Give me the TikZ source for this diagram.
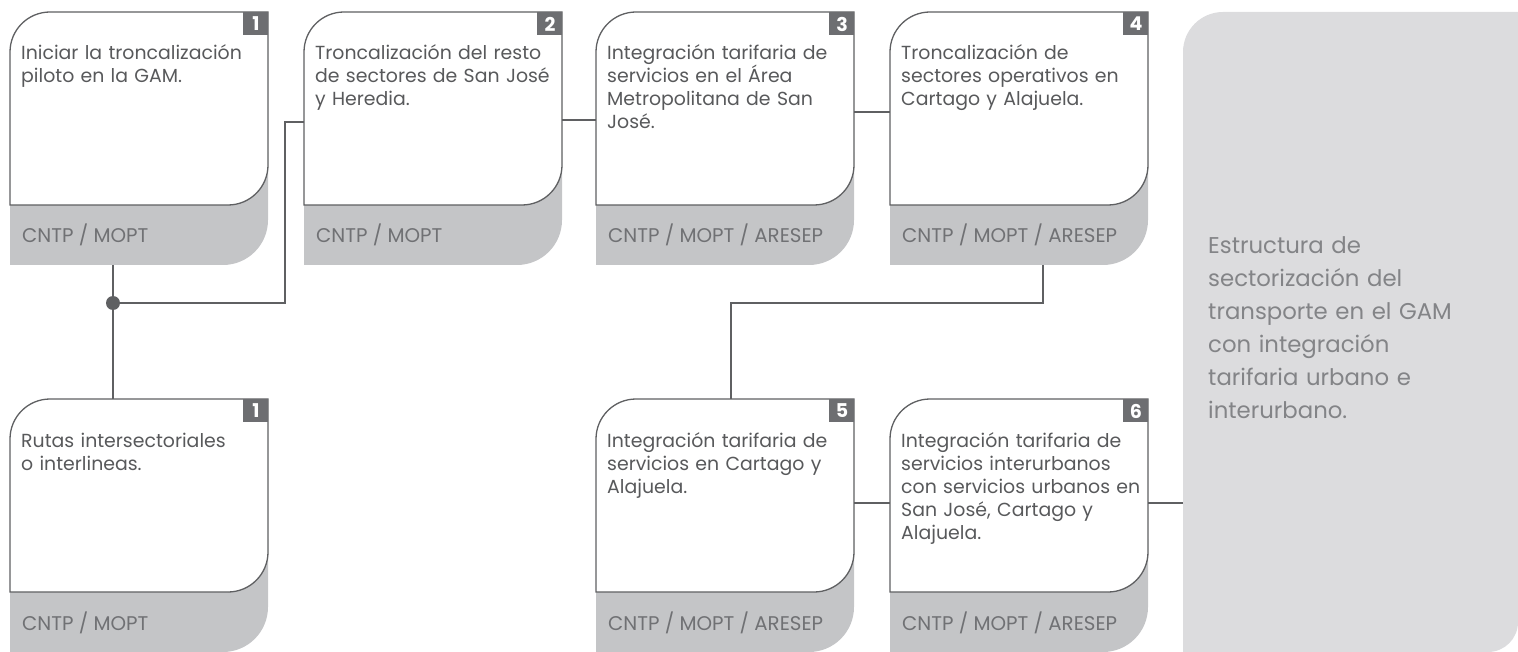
\documentclass[tikz,border=0pt]{standalone}
\usepackage{fontspec}
\setmainfont{Poppins}
\usetikzlibrary{calc}
\definecolor{linegray}{HTML}{5F6062}
\definecolor{badgegray}{HTML}{6D6E71}
\definecolor{footgray}{HTML}{C4C5C7}
\definecolor{panelgray}{HTML}{DCDCDE}
\definecolor{bodytext}{HTML}{58595B}
\definecolor{foottext}{HTML}{707174}
\definecolor{paneltext}{HTML}{838487}
\tikzset{
  connector/.style={draw=linegray, line width=1.3pt},
  cardline/.style={draw=linegray, line width=1.3pt, fill=white},
  boxarea/.style={minimum width=258pt, minimum height=253pt, inner sep=0pt, outer sep=0pt, anchor=north west},
  bodylabel/.style={text=bodytext, font=\fontsize{18.9}{23}\selectfont, text width=245pt, align=left, inner sep=0pt, anchor=base west},
  footlabel/.style={text=foottext, font=\fontsize{19.8}{22}\selectfont, inner sep=0pt, anchor=base west},
  badgelabel/.style={text=white, font=\bfseries\fontsize{19}{19}\selectfont, inner sep=0pt},
  paneltxt/.style={text=paneltext, font=\fontsize{22.8}{33}\selectfont, text width=300pt, align=left, inner sep=0pt, anchor=base west}
}
\newcommand\stepcard[6]{%
  \node[boxarea] (#1) at (#2,#3) {};
  \fill[footgray] (#2,{#3+140}) -- ({#2+258},{#3+140}) -- ({#2+258},{#3+208})
     arc[start angle=0,end angle=90,radius=45] -- (#2,{#3+253}) -- cycle;
  \path[cardline] (#2,{#3+193}) -- (#2,{#3+40}) arc[start angle=180,end angle=270,radius=40]
     -- ({#2+258},#3) -- ({#2+258},{#3+153}) arc[start angle=0,end angle=90,radius=40] -- cycle;
  \fill[badgegray] ({#2+233},#3) rectangle ({#2+258},{#3+23});
  \node[badgelabel] (#1-num) at ({#2+246},{#3+12}) {#4};
  \node[bodylabel] (#1-body) at ({#2+11},{#3+48}) {#5};
  \node[footlabel] (#1-foot) at ({#2+12},{#3+231}) {#6};
}
\begin{document}
\begin{tikzpicture}[x=1pt,y=-1pt]
\useasboundingbox (0,0) rectangle (1518,652);
% panel
\fill[panelgray] (1183,652) -- (1183,52) arc[start angle=180,end angle=270,radius=40]
   -- (1518,12) -- (1518,622) arc[start angle=0,end angle=90,radius=30] -- cycle;
\node[minimum width=335pt, minimum height=640pt, inner sep=0pt, anchor=north west] (panel) at (1183,12) {};
\node[paneltxt] (panel-text) at (1208,254) {Estructura de\\sectorización del\\transporte en el GAM\\con integración\\tarifaria urbano e\\interurbano.};
% cards
\stepcard{b1}{10}{12}{1}{Iniciar la troncalización\\piloto en la GAM.}{CNTP / MOPT}
\stepcard{b2}{304}{12}{2}{Troncalización del resto\\de sectores de San José\\y Heredia.}{CNTP / MOPT}
\stepcard{b3}{596}{12}{3}{Integración tarifaria de\\servicios en el Área\\Metropolitana de San\\José.}{CNTP / MOPT / ARESEP}
\stepcard{b4}{890}{12}{4}{Troncalización de\\sectores operativos en\\Cartago y Alajuela.}{CNTP / MOPT / ARESEP}
\stepcard{b1b}{10}{399}{1}{Rutas intersectoriales\\o interlineas.}{CNTP / MOPT}
\stepcard{b5}{596}{399}{5}{Integración tarifaria de\\servicios en Cartago y\\Alajuela.}{CNTP / MOPT / ARESEP}
\stepcard{b6}{890}{399}{6}{Integración tarifaria de\\servicios interurbanos\\con servicios urbanos en\\San José, Cartago y\\Alajuela.}{CNTP / MOPT / ARESEP}
% connectors
\coordinate (j) at (113,303);
\coordinate (k) at (285,122);
\coordinate (m) at (1043,303);
\draw[connector] (j |- b1.south) -- (j |- b1b.north);
\draw[connector] (j) -| (k) -- (k -| b2.west);
\draw[connector] (b2.east |- 0,120) -- (b3.west |- 0,120);
\draw[connector] (b3.east |- 0,112) -- (b4.west |- 0,112);
\draw[connector] (m |- b4.south) -- (m) -| ($(b5.north west)+(135,0)$);
\draw[connector] (b5.east |- 0,503) -- (b6.west |- 0,503);
\draw[connector] (b6.east |- 0,503) -- (panel.west |- 0,503);
\fill[linegray] (j) circle[radius=7pt];
\end{tikzpicture}
\end{document}
